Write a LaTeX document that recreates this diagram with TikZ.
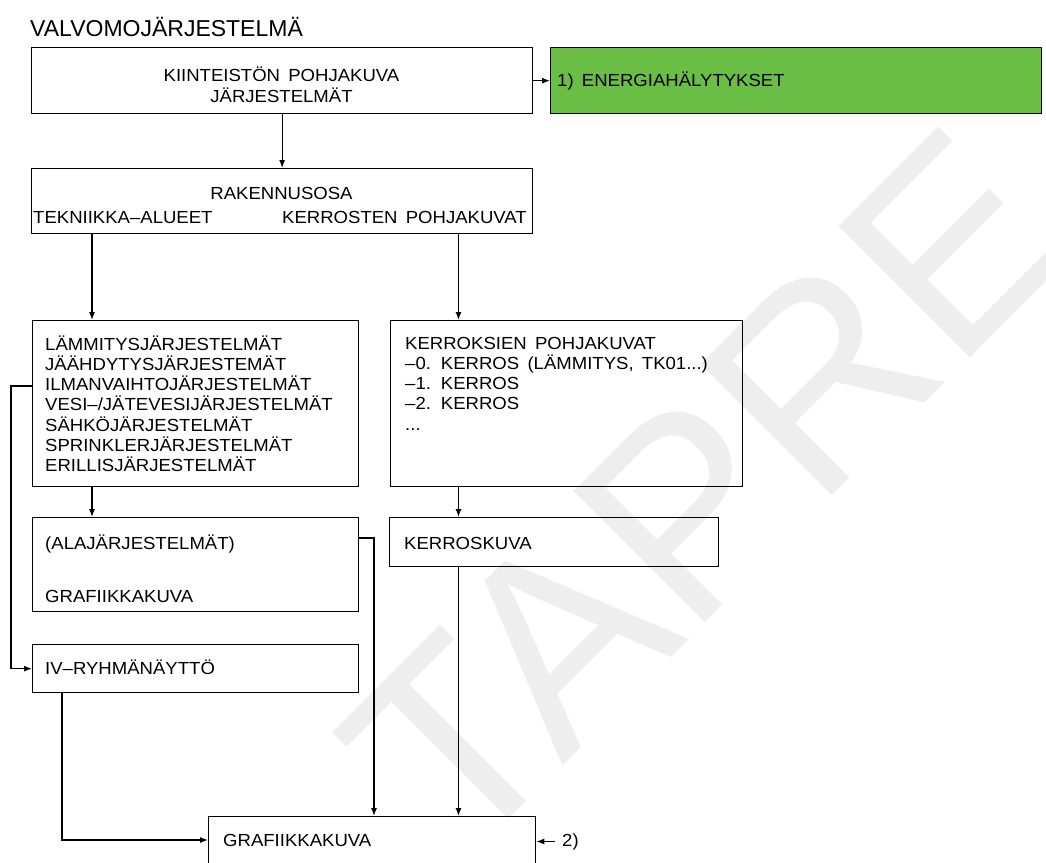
\documentclass[tikz,border=0pt]{standalone}
\usepackage{fontspec}
\setmainfont{Liberation Sans}
\newfontfamily\cadfont[FakeStretch=1.06,WordSpace=1.6]{Liberation Sans}
\usetikzlibrary{arrows.meta}
\definecolor{alarmgreen}{RGB}{106,189,69}
\definecolor{wmgray}{RGB}{238,238,238}
\begin{document}
\begin{tikzpicture}[x=1pt,y=-1pt,
  box/.style={draw=black,line width=1.3pt,rectangle,inner sep=0pt,anchor=north west},
  txt/.style={inner sep=0pt,font=\cadfont\fontsize{17.5}{20.2}\selectfont,align=left},
  arr/.style={line width=1.3pt,-{Latex[length=8pt,width=6pt]}}]
\useasboundingbox (0,0) rectangle (1046,862);
\clip (0,0) rectangle (1046,862);
% watermark
\node[rotate=45,text=wmgray,inner sep=0pt,font=\fontsize{270}{270}\selectfont] (wm) at (705,492) {TAPRE};
% title
\node[anchor=base west,inner sep=0pt,font=\fontsize{23}{23}\selectfont] (title) at (30,36) {VALVOMOJÄRJESTELMÄ};
% boxes
\node[box,minimum width=501pt,minimum height=66pt] (b1) at (31,47) {};
\node[box,fill=alarmgreen,minimum width=491pt,minimum height=66pt] (g) at (550,47) {};
\node[box,minimum width=501pt,minimum height=65pt] (b2) at (31,168) {};
\node[box,minimum width=326pt,minimum height=166pt] (b3) at (32,320) {};
\node[box,minimum width=352pt,minimum height=166pt] (b4) at (390,320) {};
\node[box,minimum width=326pt,minimum height=94pt] (b5) at (32,517) {};
\node[box,minimum width=329pt,minimum height=49pt] (b6) at (389,517) {};
\node[box,minimum width=326pt,minimum height=48pt] (b7) at (32,644) {};
\node[box,minimum width=327pt,minimum height=80pt] (b8) at (208,816) {};
% texts
\node[txt,anchor=base] (t1a) at (281.5,81) {KIINTEISTÖN POHJAKUVA};
\node[txt,anchor=base] (t1b) at (281.5,102) {JÄRJESTELMÄT};
\node[txt,anchor=base west] (tg) at (557,86) {1) ENERGIAHÄLYTYKSET};
\node[txt,anchor=base] (t2a) at (281.5,199) {RAKENNUSOSA};
\node[txt,anchor=base west] (t2b) at (33,223) {TEKNIIKKA–ALUEET};
\node[txt,anchor=base east] (t2c) at (527,223) {KERROSTEN POHJAKUVAT};
\node[txt,anchor=north west] (t3) at (45,333) {\rule{0pt}{17pt}LÄMMITYSJÄRJESTELMÄT\\JÄÄHDYTYSJÄRJESTEMÄT\\ILMANVAIHTOJÄRJESTELMÄT\\VESI–/JÄTEVESIJÄRJESTELMÄT\\SÄHKÖJÄRJESTELMÄT\\SPRINKLERJÄRJESTELMÄT\\ERILLISJÄRJESTELMÄT};
\node[txt,anchor=north west] (t4) at (405,332) {\rule{0pt}{17pt}KERROKSIEN POHJAKUVAT\\–0. KERROS (LÄMMITYS, TK01...)\\–1. KERROS\\–2. KERROS\\...};
\node[txt,anchor=base west] (t5a) at (45,549) {(ALAJÄRJESTELMÄT)};
\node[txt,anchor=base west] (t5b) at (45,602) {GRAFIIKKAKUVA};
\node[txt,anchor=base west] (t6) at (404,549) {KERROSKUVA};
\node[txt,anchor=base west] (t7) at (45,674) {IV–RYHMÄNÄYTTÖ};
\node[txt,anchor=base west] (t8) at (223,846) {GRAFIIKKAKUVA};
\node[txt,anchor=base west] (t9) at (562,846) {2)};
% connectors
\coordinate (xl) at (92,0);
\coordinate (xr) at (458.5,0);
\coordinate (c1) at (11,386);
\coordinate (c2) at (374,538);
\coordinate (c3) at (62,840);
\draw[arr] (b1.east) -- (g.west);
\draw[arr] (b1.south) -- (b2.north);
\draw[arr] (xl |- b2.south) -- (xl |- b3.north);
\draw[arr] (xr |- b2.south) -- (xr |- b4.north);
\draw[arr] (xl |- b3.south) -- (xl |- b5.north);
\draw[arr] (xr |- b4.south) -- (xr |- b6.north);
\draw[arr] (xr |- b6.south) -- (xr |- b8.north);
\draw[arr] (b3.west |- c1) -- (c1) -- (c1 |- b7.west) -- (b7.west);
\draw[arr] (b5.east |- c2) -- (c2) -- (c2 |- b8.north);
\draw[arr] (c3 |- b7.south) -- (c3) -- (b8.west |- c3);
\draw[arr] ([xshift=-7pt]t9.west) -- (b8.east |- t9.west);
\end{tikzpicture}
\end{document}
